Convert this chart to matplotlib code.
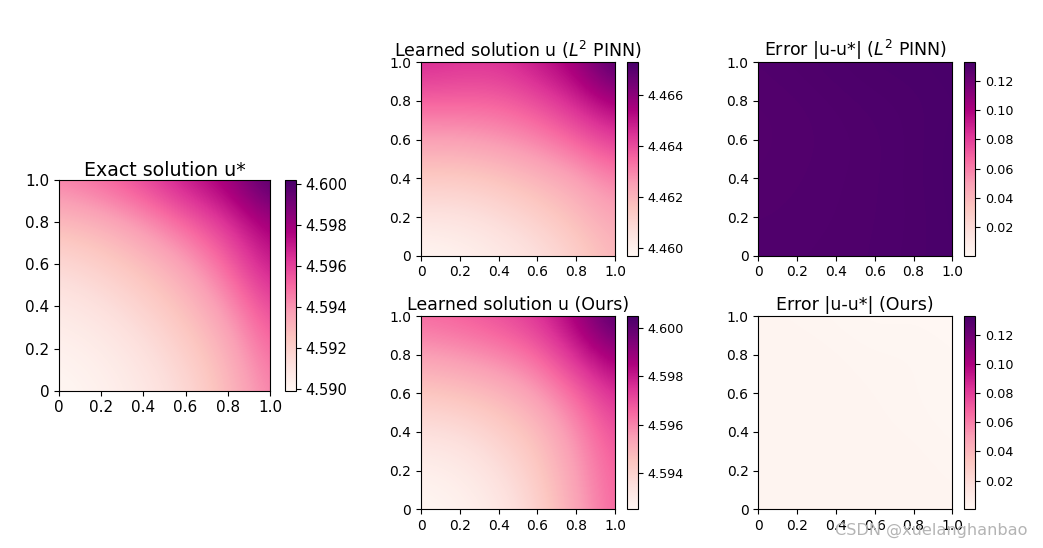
import numpy as np
import matplotlib
matplotlib.use("Agg")
import matplotlib.pyplot as plt
from matplotlib.ticker import FormatStrFormatter, MultipleLocator

# grid nodes (same for x and y), step 0.2
grid = [0.0, 0.2, 0.4, 0.6, 0.8, 1.0]

# exact solution u*, rows = y from 0 to 1, cols = x from 0 to 1
u_exact = [
    [4.5899, 4.5902, 4.5907, 4.5915, 4.5928, 4.5945],
    [4.5902, 4.5905, 4.5911, 4.5920, 4.5932, 4.5951],
    [4.5907, 4.5911, 4.5918, 4.5927, 4.5940, 4.5959],
    [4.5915, 4.5920, 4.5927, 4.5936, 4.5951, 4.5971],
    [4.5928, 4.5932, 4.5940, 4.5951, 4.5963, 4.5980],
    [4.5945, 4.5951, 4.5959, 4.5971, 4.5980, 4.6002],
]

# learned solution, L2 PINN
u_pinn = [
    [4.4597, 4.4599, 4.4602, 4.4606, 4.4612, 4.4620],
    [4.4605, 4.4605, 4.4608, 4.4612, 4.4618, 4.4624],
    [4.4614, 4.4614, 4.4616, 4.4620, 4.4624, 4.4631],
    [4.4625, 4.4625, 4.4627, 4.4630, 4.4636, 4.4643],
    [4.4636, 4.4636, 4.4636, 4.4640, 4.4647, 4.4656],
    [4.4647, 4.4645, 4.4645, 4.4650, 4.4657, 4.4673],
]

# learned solution, ours
u_ours = [
    [4.5925, 4.5927, 4.5931, 4.5940, 4.5953, 4.5966],
    [4.5928, 4.5930, 4.5935, 4.5943, 4.5955, 4.5967],
    [4.5935, 4.5936, 4.5941, 4.5947, 4.5958, 4.5970],
    [4.5944, 4.5946, 4.5949, 4.5955, 4.5965, 4.5977],
    [4.5955, 4.5957, 4.5960, 4.5965, 4.5977, 4.5989],
    [4.5965, 4.5967, 4.5970, 4.5975, 4.5987, 4.6005],
]

tick_vals = [0, 0.2, 0.4, 0.6, 0.8, 1.0]
tick_labels = ['0', '0.2', '0.4', '0.6', '0.8', '1.0']

ex = np.array(u_exact)
pinn = np.array(u_pinn)
ours = np.array(u_ours)
err_pinn = np.abs(pinn - ex)
err_ours = np.abs(ours - ex)
emin = min(err_pinn.min(), err_ours.min())
emax = max(err_pinn.max(), err_ours.max())

# pixel centres sit on the grid nodes
half = (grid[1] - grid[0]) / 2
ext = [grid[0] - half, grid[-1] + half, grid[0] - half, grid[-1] + half]

W, H = 1043, 548
fig = plt.figure(figsize=(W / 100, H / 100), dpi=100)


def px_axes(x0, x1, y0, y1):
    # pixel box (top-left origin) -> figure fraction
    return fig.add_axes([x0 / W, (H - y1) / H, (x1 - x0) / W, (y1 - y0) / H])


def panel(box, cbox, Z, title, vmin=None, vmax=None, fmt='%.3f', step=0.002,
          tsize=12.5, ticksize=10, cbsize=9.2, pad=4):
    ax = px_axes(*box)
    if vmin is None:
        vmin, vmax = Z.min(), Z.max()
    m = ax.imshow(Z, cmap='RdPu', origin='lower', extent=ext, vmin=vmin, vmax=vmax,
                  interpolation='bicubic', interpolation_stage='data', aspect='auto')
    ax.set_xlim(0, 1)
    ax.set_ylim(0, 1)
    ax.set_xticks(tick_vals)
    ax.set_xticklabels(tick_labels)
    ax.set_yticks(tick_vals)
    ax.set_yticklabels(tick_labels)
    ax.tick_params(labelsize=ticksize)
    ax.set_title(title, fontsize=tsize, pad=pad)
    cax = px_axes(*cbox)
    cb = fig.colorbar(m, cax=cax)
    cb.locator = MultipleLocator(step)
    cb.formatter = FormatStrFormatter(fmt)
    cb.update_ticks()
    cax.tick_params(labelsize=cbsize)
    return ax


# left big panel
panel((59, 270, 180, 390.7), (285, 296, 180, 390.7), ex, 'Exact solution u*',
      tsize=13.7, ticksize=11, cbsize=10.5, pad=3)

# middle column
panel((421, 615, 62.3, 255.7), (627, 638, 62.3, 255.7), pinn,
      r'Learned solution u ($L^2$ PINN)')
panel((421, 615, 316, 509.3), (627, 638, 316, 509.3), ours,
      'Learned solution u (Ours)')

# right column, errors share one colour range
panel((758.3, 952.3, 62.3, 255.7), (964.3, 975, 62.3, 255.7), err_pinn,
      r'Error |u-u*| ($L^2$ PINN)', vmin=emin, vmax=emax, fmt='%.2f', step=0.02)
panel((758.3, 952.3, 316, 509.3), (964.3, 975, 316, 509.3), err_ours,
      'Error |u-u*| (Ours)', vmin=emin, vmax=emax, fmt='%.2f', step=0.02)

fig.text(835 / W, (H - 530) / H, 'CSDN @xuelanghanbao', fontsize=11.6,
         color='#b4b4b4', va='center', ha='left')

fig.savefig('out.png', dpi=100)
